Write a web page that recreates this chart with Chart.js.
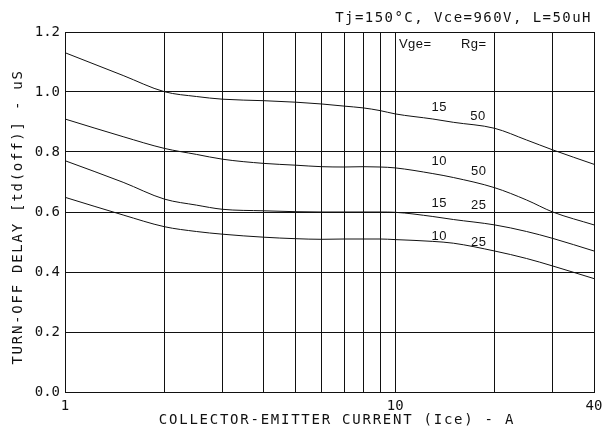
<!DOCTYPE html>
<html>
<head>
<meta charset="utf-8">
<title>Turn-off delay vs collector current</title>
<script src="https://cdn.jsdelivr.net/npm/chart.js@4.4.1/dist/chart.umd.min.js"></script>
<style>
  html, body { margin: 0; padding: 0; background: #fff; }
  #wrap { width: 602px; height: 434px; }
</style>
</head>
<body>
<div id="wrap"><canvas id="delay" width="602" height="434"></canvas></div>
<script>
/* ---- data ---- */
const CURRENT     = [1, 1.5, 2, 2.5, 3, 4, 5, 6, 7, 8, 9, 10, 13, 15, 20, 25, 30, 40];
const VGE15_RG50  = [1.131, 1.055, 1.001, 0.985, 0.976, 0.971, 0.966, 0.960, 0.953, 0.947, 0.938, 0.927, 0.910, 0.899, 0.879, 0.840, 0.807, 0.759];
const VGE10_RG50  = [0.910, 0.851, 0.812, 0.792, 0.776, 0.762, 0.756, 0.751, 0.750, 0.751, 0.750, 0.747, 0.728, 0.715, 0.681, 0.640, 0.600, 0.557];
const VGE15_RG25  = [0.771, 0.699, 0.643, 0.623, 0.609, 0.604, 0.601, 0.600, 0.600, 0.600, 0.600, 0.599, 0.585, 0.575, 0.557, 0.535, 0.512, 0.470];
const VGE10_RG25  = [0.649, 0.590, 0.551, 0.535, 0.526, 0.516, 0.511, 0.509, 0.510, 0.510, 0.510, 0.508, 0.502, 0.496, 0.470, 0.445, 0.420, 0.378];

const X_GRID      = [1, 2, 3, 4, 5, 6, 7, 8, 9, 10, 20, 30, 40];
const X_LABELED   = [1, 10, 40];
const Y_TICKS     = [0, 0.2, 0.4, 0.6, 0.8, 1.0, 1.2];

const TITLE   = 'Tj=150°C, Vce=960V, L=50uH';
const X_TITLE = 'COLLECTOR-EMITTER CURRENT (Ice) - A';
const Y_TITLE = 'TURN-OFF DELAY [td(off)] - uS';

// curve tags, in data coordinates (current, delay)
const TAG_TEXT = ['Vge=', 'Rg=', '15', '50', '10', '50', '15', '25', '10', '25'];
const TAG_X    = [11.5, 17.3, 13.6, 17.8, 13.6, 17.9, 13.6, 17.9, 13.6, 17.9];
const TAG_Y    = [1.157, 1.157, 0.947, 0.920, 0.767, 0.735, 0.628, 0.623, 0.517, 0.497];

const INK = '#111';
const MONO = '"DejaVu Sans Mono", monospace';

function series(vals) {
  return {
    data: CURRENT.map((c, i) => ({ x: c, y: vals[i] })),
    borderColor: INK, borderWidth: 1, pointRadius: 0,
    cubicInterpolationMode: 'monotone', fill: false
  };
}

/* titles + curve tags, drawn with letter spacing the way the plotter font looks */
const plotText = {
  id: 'plotText',
  afterDraw(chart) {
    const { ctx, scales: { x, y } } = chart;
    ctx.save();
    ctx.fillStyle = INK;
    ctx.textBaseline = 'middle';
    ctx.font = '14px ' + MONO;
    ctx.letterSpacing = '1.45px';
    ctx.textAlign = 'right';
    ctx.fillText(TITLE, 592, 18);
    ctx.letterSpacing = '1.75px';
    ctx.textAlign = 'center';
    ctx.fillText(X_TITLE, 337, 420);
    ctx.save();
    ctx.translate(18, 217);
    ctx.rotate(-Math.PI / 2);
    ctx.fillText(Y_TITLE, 0, 0);
    ctx.restore();

    ctx.letterSpacing = '0.5px';
    ctx.font = '13px "Liberation Sans", Arial, sans-serif';
    TAG_TEXT.forEach((t, i) => {
      ctx.fillText(t, x.getPixelForValue(TAG_X[i]), y.getPixelForValue(TAG_Y[i]));
    });
    ctx.restore();
  }
};

new Chart(document.getElementById('delay'), {
  type: 'line',
  data: { datasets: [series(VGE15_RG50), series(VGE10_RG50), series(VGE15_RG25), series(VGE10_RG25)] },
  options: {
    responsive: false,
    animation: false,
    devicePixelRatio: 1,
    layout: { padding: { top: 32, right: 8, left: 0, bottom: 0 } },
    plugins: { legend: { display: false }, tooltip: { enabled: false } },
    scales: {
      x: {
        type: 'logarithmic', min: 1, max: 40,
        afterBuildTicks: s => { s.ticks = X_GRID.map(v => ({ value: v })); },
        afterFit: s => { s.height = 42; s.paddingRight = 0; s.paddingLeft = 0; },
        grid: { color: INK, lineWidth: 1, drawTicks: false },
        border: { color: INK },
        ticks: {
          autoSkip: false, maxRotation: 0, padding: 6, color: INK,
          font: { family: MONO, size: 14 },
          callback: v => X_LABELED.includes(v) ? String(v) : ''
        }
      },
      y: {
        min: 0, max: 1.2,
        afterBuildTicks: s => { s.ticks = Y_TICKS.map(v => ({ value: v })); },
        afterFit: s => { s.width = 65; },
        grid: { color: INK, lineWidth: 1, drawTicks: false },
        border: { color: INK },
        ticks: {
          padding: 5, color: INK,
          font: { family: MONO, size: 14 },
          callback: v => Number(v).toFixed(1)
        }
      }
    }
  },
  plugins: [plotText]
});
</script>
</body>
</html>
